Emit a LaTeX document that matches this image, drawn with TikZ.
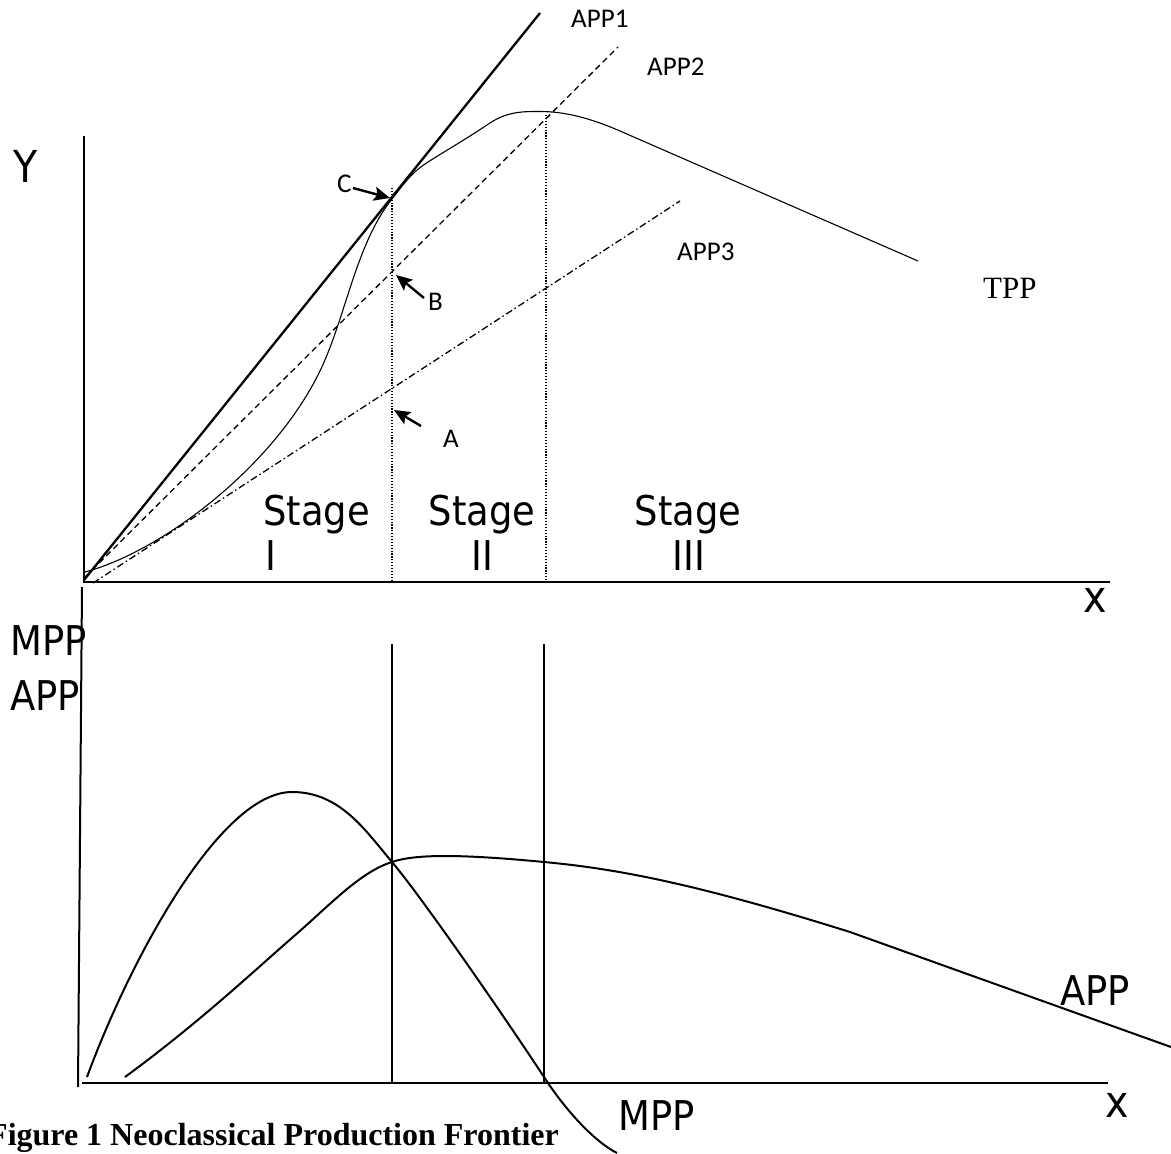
\documentclass[tikz,border=0pt]{standalone}
\usepackage{fontspec}
\usetikzlibrary{arrows.meta}
\newfontfamily\labfont[FakeStretch=0.9]{DejaVu Sans}
\newfontfamily\smallfont{Carlito}
\newfontfamily\serffont{Liberation Serif}

\tikzset{
  axisline/.style={line width=2pt},
  curveline/.style={line width=2pt, line join=round},
  tppline/.style={line width=1.1pt},
  appone/.style={line width=2.3pt},
  apptwo/.style={line width=1.3pt, dash pattern=on 6pt off 4pt},
  appthree/.style={line width=1.3pt, dash pattern=on 7pt off 3pt on 1.5pt off 3pt},
  dotline/.style={line width=1.3pt, dash pattern=on 1.2pt off 1.7pt},
  stageline/.style={line width=1.7pt},
  pointer/.style={line width=2.4pt, -{Stealth[length=16pt,width=14pt,inset=3pt]}},
  biglab/.style={inner sep=0pt, font=\labfont\fontsize{41}{41}\selectfont},
  smalllab/.style={inner sep=0pt, anchor=base west, font=\smallfont\fontsize{27}{27}\selectfont},
}

\begin{document}
\begin{tikzpicture}[x=1pt,y=-1pt]
\useasboundingbox (0,0) rectangle (1171,1154);

% ---------- upper panel: total product ----------
\coordinate (o1) at (84,582);
\coordinate (ytop) at (84,136);
\coordinate (xend1) at (1110,582);
\draw[axisline] (ytop) -- (o1) -- (xend1);

% rays from the origin
\coordinate (a1s) at (84,580);
\coordinate (a1e) at (540,13);
\coordinate (a2s) at (85,577);
\coordinate (a2e) at (618,47);
\coordinate (a3s) at (93,583);
\coordinate (a3e) at (680,201);
\draw[appone] (a1s) -- (a1e);
\draw[apptwo] (a2s) -- (a2e);
\draw[appthree] (a3s) -- (a3e);

% total product curve
\coordinate (t0) at (85,572);
\coordinate (t1) at (318,375);
\coordinate (t2) at (392,199);
\coordinate (t3) at (425,164);
\coordinate (t4) at (490,123);
\coordinate (t5) at (540,111.5);
\coordinate (t6) at (620,131);
\coordinate (t7) at (918,261);
\draw[tppline] (t0) .. controls (160,552) and (270,470) .. (t1)
  .. controls (345,322) and (355,245) .. (t2)
  .. controls (402,186.5) and (410,174) .. (t3)
  .. controls (440,154) and (460,143) .. (t4)
  .. controls (508,111) and (525,111.5) .. (t5)
  .. controls (565,111.5) and (590,118) .. (t6)
  -- (t7);

% stage boundaries
\coordinate (d1t) at (392,188);
\coordinate (d1b) at (392,582);
\coordinate (d2t) at (546,115);
\coordinate (d2b) at (546,582);
\draw[dotline] (d1t) -- (d1b);
\draw[dotline] (d2t) -- (d2b);

% labels
\node[biglab, anchor=base west, font=\labfont\fontsize{44}{44}\selectfont] (ylab) at (13,182) {Y};
\node[biglab, anchor=base west, font=\labfont\fontsize{44}{44}\selectfont] (xlab1) at (1083,612) {x};
\node[smalllab] (l1) at (571,27) {APP1};
\node[smalllab] (l2) at (647,75) {APP2};
\node[smalllab] (l3) at (677,260) {APP3};
\node[inner sep=0pt, anchor=base west, font=\serffont\fontsize{31}{31}\selectfont] (ltpp) at (983,298) {TPP};

\node[biglab, anchor=base west] (st1) at (263,525) {Stage};
\node[biglab, anchor=base west] (st1n) at (265,570) {I};
\node[biglab, anchor=base] (st2) at (482,525) {Stage};
\node[biglab, anchor=base] (st2n) at (482,570) {II};
\node[biglab, anchor=base] (st3) at (688,525) {Stage};
\node[biglab, anchor=base] (st3n) at (689,570) {III};

% marked points and their pointers
\coordinate (pc) at (390,198);
\coordinate (pb) at (396,275);
\coordinate (pa) at (394,410);
\node[smalllab] (lc) at (337,192) {C};
\node[smalllab] (lb) at (428,310) {B};
\node[smalllab] (la) at (443,447) {A};
\coordinate (tc) at (353,188);
\coordinate (tb) at (424,298);
\coordinate (ta) at (421,426);
\draw[pointer] (tc) -- (pc);
\draw[pointer] (tb) -- (pb);
\draw[pointer] (ta) -- (pa);

% ---------- lower panel: marginal and average product ----------
\coordinate (ytop2) at (82,587);
\coordinate (ybot2) at (78,1087);
\coordinate (o2) at (82,1083);
\coordinate (xend2) at (1108,1083);
\draw[axisline] (ytop2) -- (ybot2);
\draw[axisline] (o2) -- (xend2);

\coordinate (v1t) at (392,644);
\coordinate (v1b) at (392,1083);
\coordinate (v2t) at (544,644);
\coordinate (v2b) at (544,1083);
\draw[stageline] (v1t) -- (v1b);
\draw[stageline] (v2t) -- (v2b);

% marginal product
\coordinate (m0) at (87,1077);
\coordinate (m1) at (292,792);
\coordinate (m2) at (392,862);
\coordinate (m3) at (544,1077);
\coordinate (m4) at (617,1153);
\draw[curveline] (m0) .. controls (130,960) and (220,792) .. (m1)
  .. controls (340,792) and (365,830) .. (m2)
  .. controls (420,895) and (500,1010) .. (m3)
  .. controls (566,1111) and (595,1142) .. (m4);

% average product
\coordinate (p0) at (125,1077);
\coordinate (p1) at (293,937);
\coordinate (p2) at (392,862);
\coordinate (p3) at (544,862);
\coordinate (p4) at (850,932);
\coordinate (p5) at (1171,1047);
\draw[curveline] (p0) .. controls (200,1022) and (255,970) .. (p1)
  .. controls (330,905) and (360,872) .. (p2)
  .. controls (415,854) and (460,854) .. (p3)
  .. controls (620,869) and (700,885) .. (p4)
  -- (p5);

\node[biglab, anchor=base west] (mpplab) at (10,655) {MPP};
\node[biglab, anchor=base west] (applab) at (10,710) {APP};
\node[biglab, anchor=base west] (appcurve) at (1060,1005) {APP};
\node[biglab, anchor=base west] (mppcurve) at (618,1130) {MPP};
\node[biglab, anchor=base west, font=\labfont\fontsize{44}{44}\selectfont] (xlab2) at (1105,1117) {x};

\node[inner sep=0pt, anchor=base west, font=\serffont\bfseries\fontsize{32}{32}\selectfont] (caption) at (-12,1145) {Figure 1 Neoclassical Production Frontier};
\end{tikzpicture}
\end{document}
